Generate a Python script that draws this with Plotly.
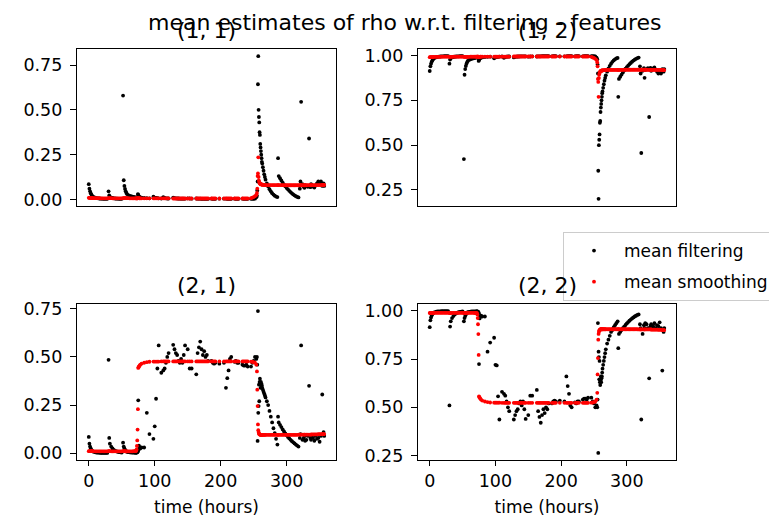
import plotly.graph_objects as go

# ---------------- data ----------------
time_hours = [
    0, 1, 2, 3, 4, 5, 6, 8, 10, 12, 14, 16, 18, 20, 22, 24, 26, 28, 30, 31,
    32, 34, 36, 38, 40, 42, 44, 46, 48, 50, 52, 53, 54, 55, 56, 57, 58, 60, 62, 64, 66, 68, 70,
    71, 72, 72.5, 73, 73.5, 74, 74.5, 75, 75.5, 76, 77, 78,
    80, 84, 88, 92, 98, 100, 102, 104, 106, 110, 113, 115, 117, 119, 121,
    128, 130, 132, 134, 136, 138, 140, 142, 144, 146, 150, 153, 156,
    163, 165, 167, 169, 171, 173, 175, 177, 179, 181, 186, 188, 190, 192, 198,
    205, 208, 210, 212, 214, 216, 221, 223, 225, 227, 233, 235, 237, 239, 241,
    246, 248, 250, 252,
    254, 255, 255.5, 256, 256.5, 257, 257.5, 258, 258.5, 259, 259.5, 260, 260.5, 261, 261.5, 262, 262.5, 263,
    264, 265, 266, 267, 268, 270, 272, 274, 276, 278, 280, 282, 284, 286, 287,
    288, 290, 292, 294, 296, 298, 300, 302, 304, 306, 308, 310, 312, 314, 316, 318, 320, 321,
    322, 324, 326, 327, 328, 330, 332, 334, 336, 337,
    338, 340, 342, 344, 346, 348, 350, 352, 354, 355, 356, 357,
]

# rho (1, 1)
filt_11 = [
    0.085, 0.06, 0.045, 0.035, 0.027, 0.02, 0.016, 0.012, 0.009, 0.007, 0.006, 0.005, 0.004, 0.004, 0.003, 0.003, 0.003, 0.003,
    0.045, 0.022, 0.014, 0.01, 0.008, 0.006, 0.005, 0.004, 0.004, 0.003, 0.003, 0.003,
    0.58, 0.107, 0.075, 0.058, 0.045, 0.036, 0.03, 0.024, 0.02, 0.018, 0.016, 0.014, 0.012,
    0.01, 0.009, 0.008, 0.008, 0.007, 0.007, 0.03, 0.025, 0.02, 0.016, 0.013, 0.011,
    0.01, 0.008, 0.007, 0.006, 0.015, 0.01, 0.008, 0.007, 0.006, 0.005, 0.012, 0.008, 0.006, 0.005, 0.005,
    0.01, 0.007, 0.006, 0.005, 0.005, 0.004, 0.004, 0.004, 0.004, 0.004, 0.006, 0.005, 0.004,
    0.005, 0.004, 0.004, 0.004, 0.003, 0.003, 0.003, 0.003, 0.003, 0.003, 0.004, 0.003, 0.003, 0.003, 0.004,
    0.004, 0.004, 0.003, 0.003, 0.003, 0.003, 0.004, 0.003, 0.003, 0.003, 0.004, 0.003, 0.003, 0.003, 0.003,
    0.003, 0.003, 0.003, 0.004,
    0.012, 0.02, 0.05, 0.10, 0.643, 0.80, 0.50, 0.46, 0.43, 0.375, 0.36, 0.31, 0.29, 0.27, 0.25, 0.23, 0.21, 0.20,
    0.18, 0.16, 0.14, 0.125, 0.11, 0.09, 0.072, 0.057, 0.045, 0.035, 0.027, 0.021, 0.016, 0.013, 0.23,
    0.13, 0.118, 0.106, 0.094, 0.083, 0.073, 0.064, 0.056, 0.048, 0.041, 0.034, 0.028, 0.023, 0.018, 0.014, 0.011, 0.06, 0.10,
    0.545, 0.085, 0.07, 0.065, 0.08, 0.075, 0.07, 0.34, 0.068, 0.085,
    0.08, 0.072, 0.066, 0.078, 0.09, 0.10, 0.085, 0.10, 0.075, 0.085, 0.09, 0.075,
]
smooth_11 = [
    0.009, 0.009, 0.008, 0.008, 0.008, 0.008, 0.007, 0.007, 0.007, 0.007, 0.007, 0.007, 0.006, 0.006, 0.006, 0.006, 0.006, 0.006,
    0.007, 0.007, 0.007, 0.007, 0.006, 0.006, 0.006, 0.006, 0.006, 0.006, 0.006, 0.006,
    0.007, 0.007, 0.007, 0.007, 0.007, 0.007, 0.007, 0.007, 0.006, 0.006, 0.006, 0.006, 0.006,
    0.006, 0.006, 0.006, 0.006, 0.006, 0.006, 0.007, 0.007, 0.007, 0.007, 0.006, 0.006,
    0.006, 0.006, 0.006, 0.006, 0.006, 0.006, 0.006, 0.006, 0.006, 0.006, 0.006, 0.006, 0.006, 0.006, 0.006,
    0.005, 0.005, 0.005, 0.005, 0.005, 0.005, 0.005, 0.005, 0.005, 0.005, 0.005, 0.005, 0.005,
    0.005, 0.005, 0.005, 0.005, 0.005, 0.005, 0.005, 0.005, 0.005, 0.005, 0.005, 0.005, 0.005, 0.005, 0.005,
    0.005, 0.005, 0.005, 0.005, 0.005, 0.005, 0.005, 0.005, 0.005, 0.005, 0.005, 0.005, 0.005, 0.005, 0.005,
    0.007, 0.01, 0.013, 0.018,
    0.025, 0.036, 0.06, 0.13, 0.145, 0.235, 0.125, 0.105, 0.097, 0.092, 0.089, 0.087, 0.086, 0.085, 0.084, 0.083, 0.083, 0.082,
    0.082, 0.081, 0.081, 0.081, 0.08, 0.08, 0.08, 0.08, 0.08, 0.08, 0.08, 0.08, 0.08, 0.08, 0.08,
    0.08, 0.08, 0.08, 0.08, 0.079, 0.079, 0.079, 0.079, 0.079, 0.079, 0.079, 0.079, 0.079, 0.079, 0.079, 0.079, 0.079, 0.079,
    0.079, 0.079, 0.079, 0.079, 0.079, 0.079, 0.08, 0.08, 0.08, 0.08,
    0.08, 0.08, 0.08, 0.08, 0.08, 0.08, 0.08, 0.08, 0.081, 0.081, 0.081, 0.081,
]

# rho (1, 2)
filt_12 = [
    0.914, 0.94, 0.955, 0.965, 0.973, 0.98, 0.984, 0.988, 0.991, 0.993, 0.994, 0.995, 0.996, 0.996, 0.997, 0.997, 0.997, 0.997,
    0.955, 0.978, 0.986, 0.99, 0.992, 0.994, 0.995, 0.996, 0.996, 0.997, 0.997, 0.997,
    0.422, 0.893, 0.925, 0.942, 0.955, 0.964, 0.97, 0.976, 0.98, 0.982, 0.984, 0.986, 0.988,
    0.99, 0.991, 0.992, 0.992, 0.993, 0.993, 0.97, 0.975, 0.98, 0.984, 0.987, 0.989,
    0.99, 0.992, 0.993, 0.994, 0.985, 0.99, 0.992, 0.993, 0.994, 0.995, 0.988, 0.992, 0.994, 0.995, 0.995,
    0.99, 0.993, 0.994, 0.995, 0.995, 0.996, 0.996, 0.996, 0.996, 0.996, 0.994, 0.995, 0.996,
    0.995, 0.996, 0.996, 0.996, 0.997, 0.997, 0.997, 0.997, 0.997, 0.997, 0.996, 0.997, 0.997, 0.997, 0.996,
    0.996, 0.996, 0.997, 0.997, 0.997, 0.997, 0.996, 0.997, 0.997, 0.997, 0.996, 0.997, 0.997, 0.997, 0.997,
    0.997, 0.997, 0.997, 0.996,
    0.988, 0.98, 0.95, 0.90, 0.357, 0.20, 0.50, 0.53, 0.56, 0.625, 0.635, 0.685, 0.71, 0.73, 0.75, 0.77, 0.79, 0.80,
    0.82, 0.84, 0.86, 0.875, 0.89, 0.91, 0.928, 0.943, 0.955, 0.965, 0.973, 0.979, 0.984, 0.987, 0.77,
    0.87, 0.882, 0.894, 0.906, 0.917, 0.927, 0.936, 0.944, 0.952, 0.959, 0.966, 0.972, 0.977, 0.982, 0.986, 0.989, 0.94, 0.90,
    0.456, 0.915, 0.93, 0.876, 0.92, 0.925, 0.93, 0.657, 0.932, 0.915,
    0.92, 0.928, 0.934, 0.922, 0.91, 0.90, 0.915, 0.90, 0.925, 0.915, 0.91, 0.925,
]
smooth_12 = [
    0.991, 0.991, 0.992, 0.992, 0.992, 0.992, 0.993, 0.993, 0.993, 0.993, 0.993, 0.993, 0.994, 0.994, 0.994, 0.994, 0.994, 0.994,
    0.993, 0.993, 0.993, 0.993, 0.994, 0.994, 0.994, 0.994, 0.994, 0.994, 0.994, 0.994,
    0.993, 0.993, 0.993, 0.993, 0.993, 0.993, 0.993, 0.993, 0.994, 0.994, 0.994, 0.994, 0.994,
    0.994, 0.994, 0.994, 0.994, 0.994, 0.994, 0.993, 0.993, 0.993, 0.993, 0.994, 0.994,
    0.994, 0.994, 0.994, 0.994, 0.994, 0.994, 0.994, 0.994, 0.994, 0.994, 0.994, 0.994, 0.994, 0.994, 0.994,
    0.995, 0.995, 0.995, 0.995, 0.995, 0.995, 0.995, 0.995, 0.995, 0.995, 0.995, 0.995, 0.995,
    0.995, 0.995, 0.995, 0.995, 0.995, 0.995, 0.995, 0.995, 0.995, 0.995, 0.995, 0.995, 0.995, 0.995, 0.995,
    0.995, 0.995, 0.995, 0.995, 0.995, 0.995, 0.995, 0.995, 0.995, 0.995, 0.995, 0.995, 0.995, 0.995, 0.995,
    0.993, 0.99, 0.987, 0.982,
    0.975, 0.962, 0.94, 0.87, 0.853, 0.77, 0.875, 0.895, 0.903, 0.908, 0.911, 0.913, 0.914, 0.915, 0.916, 0.917, 0.917, 0.918,
    0.918, 0.919, 0.919, 0.919, 0.92, 0.92, 0.92, 0.92, 0.92, 0.92, 0.92, 0.92, 0.92, 0.92, 0.92,
    0.92, 0.92, 0.92, 0.92, 0.921, 0.921, 0.921, 0.921, 0.921, 0.921, 0.921, 0.921, 0.921, 0.921, 0.921, 0.921, 0.921, 0.921,
    0.921, 0.921, 0.921, 0.921, 0.921, 0.921, 0.92, 0.92, 0.92, 0.92,
    0.92, 0.92, 0.92, 0.92, 0.92, 0.92, 0.92, 0.92, 0.919, 0.919, 0.919, 0.919,
]

# rho (2, 1)
filt_21 = [
    0.085, 0.05, 0.035, 0.025, 0.018, 0.013, 0.01, 0.007, 0.005, 0.004, 0.003, 0.003, 0.002, 0.002, 0.002, 0.002, 0.002, 0.002,
    0.485, 0.08, 0.05, 0.035, 0.025, 0.018, 0.013, 0.01, 0.008, 0.006, 0.005, 0.004,
    0.055, 0.035, 0.025, 0.018, 0.013, 0.01, 0.008, 0.006, 0.005, 0.004, 0.004, 0.003, 0.003,
    0.003, 0.003, 0.004, 0.005, 0.006, 0.008, 0.01, 0.275, 0.02, 0.04, 0.03, 0.025,
    0.03, 0.03, 0.21, 0.10, 0.075, 0.14, 0.283, 0.44, 0.56, 0.418, 0.43, 0.44, 0.47, 0.50, 0.52,
    0.563, 0.54, 0.52, 0.51, 0.48, 0.47, 0.49, 0.47, 0.51, 0.56, 0.54, 0.44, 0.44,
    0.41, 0.52, 0.55, 0.58, 0.54, 0.51, 0.53, 0.50, 0.51, 0.48, 0.48, 0.47, 0.465, 0.47, 0.465,
    0.47, 0.34, 0.39, 0.43, 0.49, 0.50, 0.475, 0.48, 0.47, 0.47, 0.46, 0.455, 0.455, 0.46, 0.45,
    0.45, 0.47, 0.48, 0.50,
    0.49, 0.50, 0.46, 0.064, 0.738, 0.21, 0.245, 0.356, 0.27, 0.37, 0.387, 0.36, 0.34, 0.37, 0.35, 0.36, 0.35, 0.34,
    0.33, 0.32, 0.31, 0.30, 0.29, 0.27, 0.25, 0.22, 0.19, 0.16, 0.13, 0.105, 0.075, 0.045, 0.19,
    0.16, 0.148, 0.136, 0.124, 0.113, 0.103, 0.094, 0.085, 0.077, 0.07, 0.063, 0.057, 0.051, 0.045, 0.04, 0.035, 0.08, 0.10,
    0.56, 0.07, 0.08, 0.09, 0.065, 0.07, 0.09, 0.35, 0.08, 0.07,
    0.09, 0.08, 0.065, 0.09, 0.075, 0.08, 0.06, 0.09, 0.305, 0.10, 0.11, 0.09,
]
smooth_21 = [
    0.011, 0.011, 0.011, 0.011, 0.011, 0.011, 0.011, 0.01, 0.01, 0.01, 0.01, 0.01, 0.01, 0.01, 0.01, 0.01, 0.01, 0.01,
    0.011, 0.011, 0.011, 0.01, 0.01, 0.01, 0.01, 0.01, 0.01, 0.01, 0.01, 0.01,
    0.011, 0.011, 0.011, 0.01, 0.01, 0.01, 0.01, 0.01, 0.01, 0.01, 0.01, 0.011, 0.011,
    0.012, 0.013, 0.02, 0.038, 0.067, 0.123, 0.229, 0.443, 0.447, 0.45, 0.455, 0.46,
    0.465, 0.47, 0.473, 0.475, 0.476, 0.476, 0.476, 0.476, 0.476, 0.477, 0.477, 0.477, 0.477, 0.477, 0.477,
    0.477, 0.477, 0.477, 0.477, 0.477, 0.477, 0.477, 0.477, 0.477, 0.477, 0.477, 0.477, 0.477,
    0.477, 0.477, 0.477, 0.477, 0.477, 0.477, 0.477, 0.477, 0.477, 0.477, 0.477, 0.477, 0.477, 0.477, 0.477,
    0.477, 0.477, 0.477, 0.477, 0.477, 0.477, 0.477, 0.477, 0.477, 0.477, 0.477, 0.477, 0.477, 0.477, 0.477,
    0.476, 0.475, 0.473, 0.47,
    0.46, 0.425, 0.33, 0.245, 0.15, 0.12, 0.11, 0.103, 0.10, 0.098, 0.097, 0.097, 0.096, 0.096, 0.096, 0.096, 0.096, 0.096,
    0.096, 0.096, 0.096, 0.096, 0.096, 0.096, 0.096, 0.096, 0.096, 0.096, 0.096, 0.096, 0.096, 0.096, 0.096,
    0.096, 0.096, 0.096, 0.096, 0.096, 0.096, 0.096, 0.096, 0.096, 0.096, 0.096, 0.096, 0.096, 0.096, 0.096, 0.097, 0.097, 0.097,
    0.097, 0.097, 0.097, 0.097, 0.097, 0.097, 0.097, 0.097, 0.097, 0.097,
    0.098, 0.098, 0.098, 0.098, 0.098, 0.099, 0.099, 0.099, 0.10, 0.10, 0.10, 0.10,
]

# rho (2, 2)
filt_22 = [
    0.915, 0.95, 0.965, 0.975, 0.982, 0.987, 0.99, 0.993, 0.995, 0.996, 0.997, 0.997, 0.998, 0.998, 0.998, 0.998, 0.998, 0.998,
    0.51, 0.918, 0.945, 0.962, 0.972, 0.98, 0.986, 0.99, 0.992, 0.994, 0.995, 0.996,
    0.945, 0.962, 0.972, 0.98, 0.986, 0.99, 0.992, 0.994, 0.995, 0.996, 0.996, 0.997, 0.997,
    0.997, 0.997, 0.996, 0.995, 0.994, 0.992, 0.99, 0.724, 0.98, 0.96, 0.97, 0.975,
    0.97, 0.97, 0.788, 0.835, 0.86, 0.72, 0.717, 0.557, 0.437, 0.58, 0.57, 0.56, 0.53, 0.50, 0.48,
    0.437, 0.46, 0.48, 0.49, 0.52, 0.53, 0.51, 0.53, 0.49, 0.44, 0.46, 0.56, 0.56,
    0.59, 0.48, 0.45, 0.42, 0.46, 0.49, 0.47, 0.50, 0.49, 0.52, 0.52, 0.53, 0.535, 0.53, 0.535,
    0.53, 0.66, 0.61, 0.57, 0.51, 0.50, 0.525, 0.52, 0.53, 0.53, 0.54, 0.545, 0.545, 0.54, 0.55,
    0.55, 0.53, 0.52, 0.50,
    0.51, 0.50, 0.54, 0.936, 0.264, 0.788, 0.76, 0.645, 0.74, 0.63, 0.615, 0.64, 0.66, 0.63, 0.65, 0.66, 0.68, 0.70,
    0.72, 0.74, 0.76, 0.78, 0.80, 0.83, 0.85, 0.87, 0.89, 0.90, 0.915, 0.925, 0.935, 0.945, 0.806,
    0.88, 0.89, 0.90, 0.91, 0.918, 0.926, 0.934, 0.941, 0.948, 0.954, 0.96, 0.965, 0.97, 0.974, 0.978, 0.981, 0.93, 0.91,
    0.437, 0.88, 0.925, 0.91, 0.935, 0.93, 0.91, 0.65, 0.92, 0.93,
    0.91, 0.92, 0.935, 0.91, 0.925, 0.92, 0.94, 0.91, 0.69, 0.90, 0.89, 0.91,
]
smooth_22 = [
    0.988, 0.988, 0.988, 0.988, 0.988, 0.988, 0.988, 0.989, 0.989, 0.989, 0.989, 0.989, 0.989, 0.989, 0.989, 0.989, 0.989, 0.989,
    0.988, 0.988, 0.988, 0.989, 0.989, 0.989, 0.989, 0.989, 0.989, 0.989, 0.989, 0.989,
    0.988, 0.988, 0.988, 0.989, 0.989, 0.989, 0.989, 0.989, 0.989, 0.989, 0.989, 0.988, 0.988,
    0.988, 0.987, 0.98, 0.962, 0.93, 0.879, 0.771, 0.557, 0.553, 0.55, 0.545, 0.54,
    0.535, 0.53, 0.527, 0.525, 0.524, 0.524, 0.524, 0.524, 0.524, 0.523, 0.523, 0.523, 0.523, 0.523, 0.523,
    0.523, 0.523, 0.523, 0.523, 0.523, 0.523, 0.523, 0.523, 0.523, 0.523, 0.523, 0.523, 0.523,
    0.523, 0.523, 0.523, 0.523, 0.523, 0.523, 0.523, 0.523, 0.523, 0.523, 0.523, 0.523, 0.523, 0.523, 0.523,
    0.523, 0.523, 0.523, 0.523, 0.523, 0.523, 0.523, 0.523, 0.523, 0.523, 0.523, 0.523, 0.523, 0.523, 0.523,
    0.524, 0.525, 0.527, 0.53,
    0.54, 0.575, 0.67, 0.755, 0.85, 0.88, 0.89, 0.897, 0.90, 0.902, 0.903, 0.903, 0.904, 0.904, 0.904, 0.904, 0.904, 0.904,
    0.904, 0.904, 0.904, 0.904, 0.904, 0.904, 0.904, 0.904, 0.904, 0.904, 0.904, 0.904, 0.904, 0.904, 0.904,
    0.904, 0.904, 0.904, 0.904, 0.904, 0.904, 0.904, 0.904, 0.904, 0.904, 0.904, 0.904, 0.904, 0.904, 0.904, 0.903, 0.903, 0.903,
    0.903, 0.903, 0.903, 0.903, 0.903, 0.903, 0.903, 0.903, 0.903, 0.903,
    0.902, 0.902, 0.902, 0.902, 0.902, 0.901, 0.901, 0.901, 0.90, 0.90, 0.90, 0.90,
]

panel_titles = ["(1, 1)", "(1, 2)", "(2, 1)", "(2, 2)"]
x_ticks = [0, 100, 200, 300]
y_ticks_low = [0.0, 0.25, 0.5, 0.75]
y_ticks_high = [0.25, 0.5, 0.75, 1.0]

for name, arr in [("f11", filt_11), ("s11", smooth_11), ("f12", filt_12), ("s12", smooth_12),
                  ("f21", filt_21), ("s21", smooth_21), ("f22", filt_22), ("s22", smooth_22)]:
    if len(arr) != len(time_hours):
        raise ValueError(f"{name}: {len(arr)} vs {len(time_hours)}")

# ---------------- figure ----------------
W, H = 777, 517
FONT = "DejaVu Sans"
TICK_SIZE = 17.5
TITLE_SIZE = 22
fig = go.Figure()

panels = [
    (filt_11, smooth_11, "x", "y"),
    (filt_12, smooth_12, "x2", "y2"),
    (filt_21, smooth_21, "x3", "y3"),
    (filt_22, smooth_22, "x4", "y4"),
]
for i, (f, s, xa, ya) in enumerate(panels):
    fig.add_trace(go.Scatter(x=time_hours, y=f, xaxis=xa, yaxis=ya, mode="markers",
                             marker=dict(color="black", size=3.8), name="mean filtering",
                             legendgroup="f", showlegend=(i == 0)))
    fig.add_trace(go.Scatter(x=time_hours, y=s, xaxis=xa, yaxis=ya, mode="markers",
                             marker=dict(color="red", size=3.8), name="mean smoothing",
                             legendgroup="s", showlegend=(i == 0)))

# panel boxes in pixels (left, right, top, bottom)
boxes = [(69, 328, 41, 198), (410, 668, 41, 198), (69, 328, 296, 452), (410, 668, 296, 452)]

tmin, tmax = min(time_hours), max(time_hours)
xpad = 0.05 * (tmax - tmin)
xrange_ = [tmin - xpad, tmax + xpad]

def yrange(a, b):
    lo, hi = min(a + b), max(a + b)
    p = 0.05 * (hi - lo)
    return [lo - p, hi + p]

common = dict(showline=True, linecolor="black", linewidth=1.2, mirror=True,
              showgrid=False, zeroline=False, tickcolor="black", tickwidth=1.2,
              tickfont=dict(size=TICK_SIZE, color="black", family=FONT))

layout = {}
for i, ((f, s, xa, ya), (l, r, t, b)) in enumerate(zip(panels, boxes)):
    xk = "xaxis" if i == 0 else f"xaxis{i + 1}"
    yk = "yaxis" if i == 0 else f"yaxis{i + 1}"
    bottom_row = i >= 2
    xa_d = dict(common, domain=[l / W, r / W], range=xrange_, anchor=ya,
                tickvals=x_ticks, ticks="outside" if bottom_row else "",
                ticklen=5, showticklabels=bottom_row, ticklabelstandoff=0)
    if bottom_row:
        xa_d["title"] = dict(text="time (hours)", font=dict(size=17, family=FONT, color="black"),
                             standoff=11)
    yv = y_ticks_low if i % 2 == 0 else y_ticks_high
    ya_d = dict(common, domain=[1 - b / H, 1 - t / H], range=yrange(f, s), anchor=xa,
                tickvals=yv, tickformat=".2f", ticks="outside", ticklen=6, ticklabelstandoff=4)
    layout[xk] = xa_d
    layout[yk] = ya_d

annotations = []
for (l, r, t, b), title in zip(boxes, panel_titles):
    annotations.append(dict(text=title, x=(l + r) / 2 / W, y=1 - (t - 4) / H, xref="paper", yref="paper",
                            xanchor="center", yanchor="bottom", showarrow=False,
                            font=dict(size=TITLE_SIZE, family=FONT, color="black")))
annotations.append(dict(text="mean estimates of rho w.r.t. filtering - features", x=396.5 / W, y=1.0,
                        xref="paper", yref="paper", xanchor="center", yanchor="top", showarrow=False,
                        font=dict(size=TITLE_SIZE, family=FONT, color="black")))

fig.update_layout(
    width=W, height=H,
    margin=dict(l=0, r=0, t=0, b=0, autoexpand=False),
    paper_bgcolor="white", plot_bgcolor="white",
    font=dict(family=FONT, size=TICK_SIZE, color="black"),
    showlegend=True,
    legend=dict(x=555 / W, y=1 - 224 / H, xanchor="left", yanchor="top",
                bgcolor="rgba(255,255,255,0.8)", bordercolor="#cccccc", borderwidth=1,
                itemwidth=50, font=dict(size=17, family=FONT, color="black"),
                traceorder="grouped", tracegroupgap=6),
    annotations=annotations,
    **layout,
)

fig.write_html("out.html")
